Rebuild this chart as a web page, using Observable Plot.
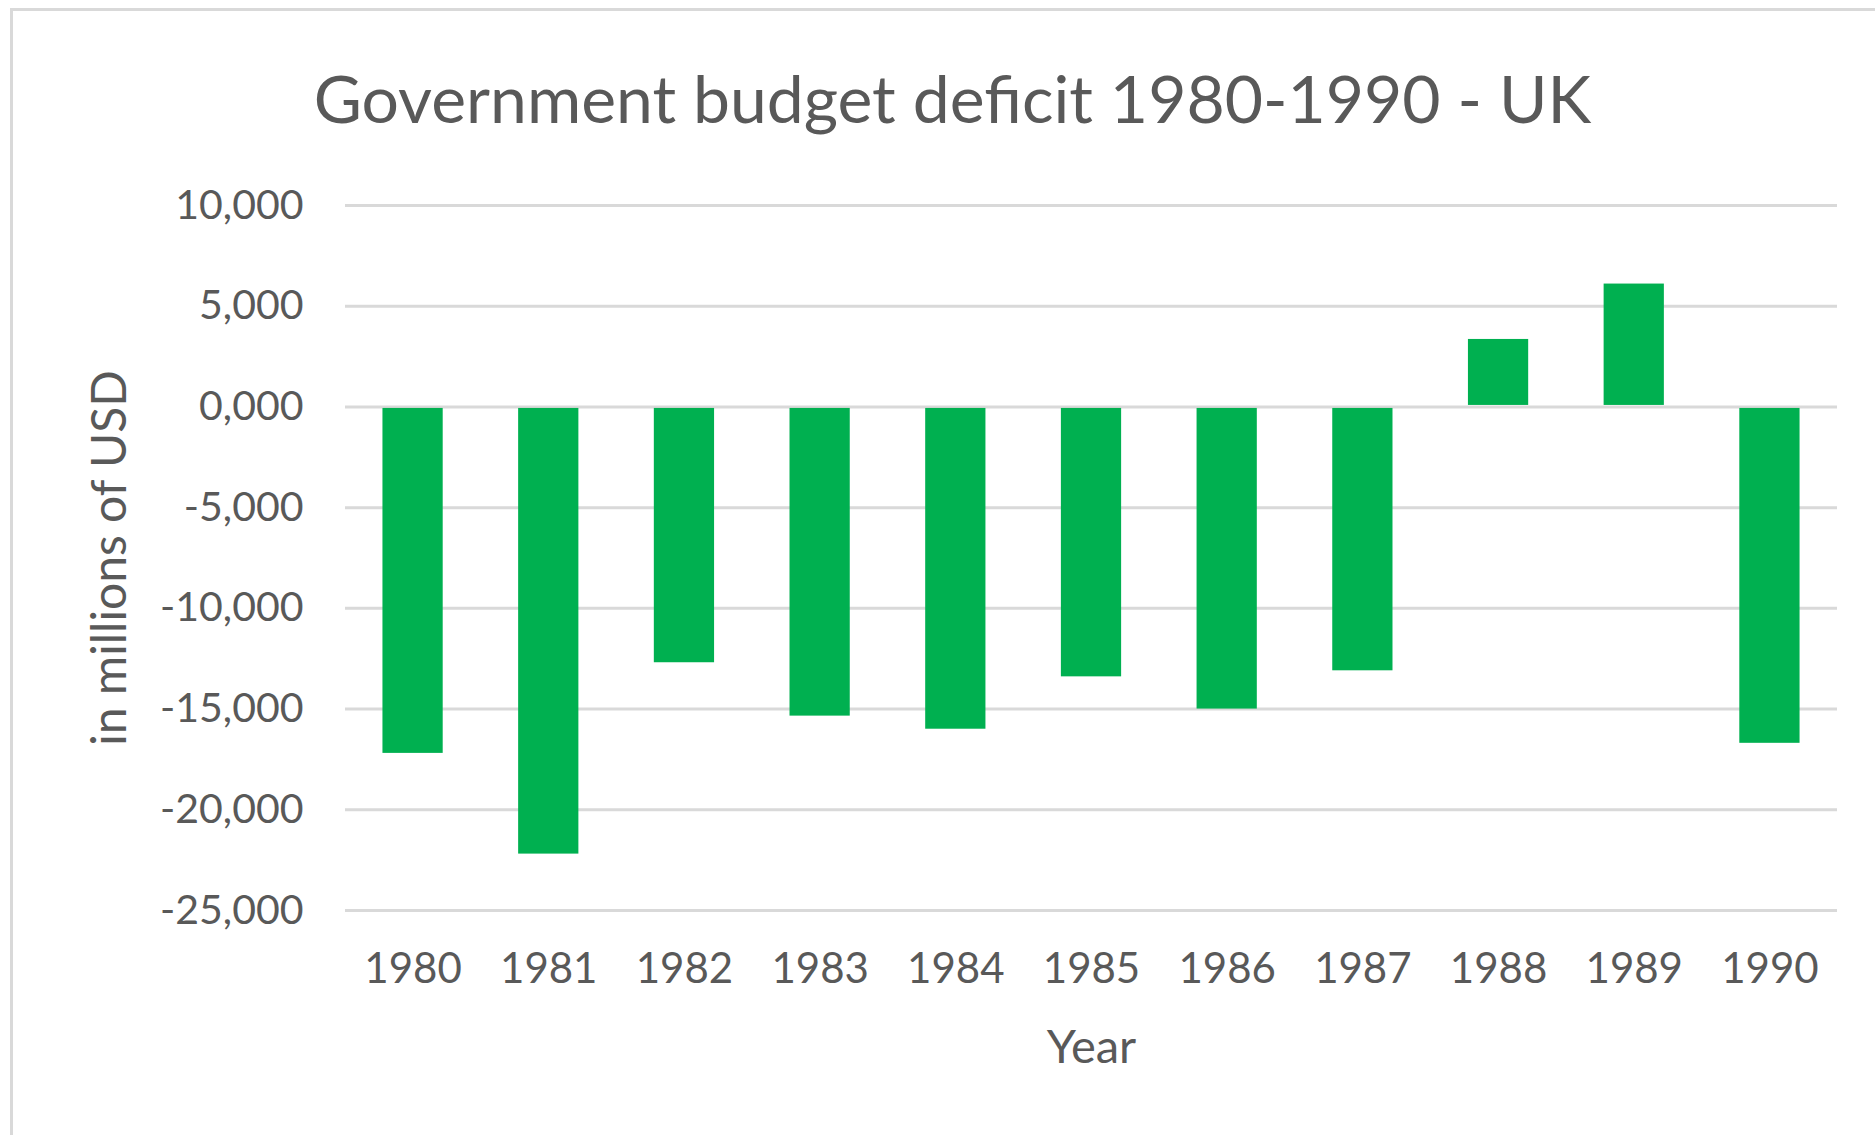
<!DOCTYPE html>
<html>
<head>
<meta charset="utf-8">
<script src="https://cdn.jsdelivr.net/npm/d3@7"></script>
<script src="https://cdn.jsdelivr.net/npm/@observablehq/plot@0.6"></script>
<style>
  html, body { margin: 0; padding: 0; background: #fff; }
  #wrap { position: relative; width: 1875px; height: 1135px; overflow: hidden; background: #fff; font-family: Lato, "Open Sans", sans-serif; }
  #frame { position: absolute; left: 10px; top: 8px; width: 1900px; height: 1200px; border-left: 3px solid #d9d9d9; border-top: 3px solid #d9d9d9; box-sizing: border-box; }
  #title { position: relative; height: 150px; text-align: center; color: #595959; font-size: 66px; line-height: 1; box-sizing: border-box; }
  #title span { position: absolute; left: 30px; right: 0; top: 65px; }
  #chart { position: relative; }
</style>
</head>
<body>
<div id="wrap">
  <div id="frame"></div>
  <div id="title"><span>Government budget deficit 1980-1990 - UK</span></div>
  <div id="chart"></div>
</div>
<script>
const years = ["1980","1981","1982","1983","1984","1985","1986","1987","1988","1989","1990"];
const deficit = [-17200, -22200, -12700, -15350, -16000, -13400, -15000, -13100, 3350, 6100, -16700];
const yTicks = [10000, 5000, 0, -5000, -10000, -15000, -20000, -25000];
const xTitle = "Year";
const yTitle = "in millions of USD";

const data = years.map((y, i) => ({year: y, value: deficit[i]}));
const fmt = d => (d < 0 ? "-" : "") + (Math.abs(d) / 1000) + ",000";

const chart = Plot.plot({
  width: 1875,
  height: 985,
  marginLeft: 345,
  marginRight: 38,
  marginTop: 55,
  marginBottom: 225,
  style: {fontFamily: "Lato, 'Open Sans', sans-serif", color: "#595959", background: "transparent"},
  x: {domain: years, paddingInner: 0.556, paddingOuter: 0.276, round: false, label: null},
  y: {domain: [-25000, 10000], label: null},
  marks: [
    Plot.gridY(yTicks, {stroke: "#d9d9d9", strokeWidth: 3, strokeOpacity: 1}),
    Plot.barY(data.filter(d => d.value < 0), {x: "year", y1: 0, y2: "value", fill: "#00b050", insetTop: 1.5}),
    Plot.barY(data.filter(d => d.value >= 0), {x: "year", y1: 0, y2: "value", fill: "#00b050", insetBottom: 1.5}),
    Plot.axisY({ticks: yTicks, tickFormat: fmt, tickSize: 0, tickPadding: 42, fontSize: 41, fill: "#595959", label: null}),
    Plot.axisX({tickSize: 0, tickPadding: 43, fontSize: 42, fill: "#595959", label: null}),
    Plot.text([xTitle], {text: d => d, frameAnchor: "bottom", dy: 137, lineAnchor: "middle", fontSize: 47, fill: "#595959"}),
    Plot.text([yTitle], {text: d => d, frameAnchor: "left", textAnchor: "middle", dx: -235, rotate: -90, lineAnchor: "middle", fontSize: 48, fill: "#595959"})
  ]
});
document.getElementById("chart").appendChild(chart);
</script>
</body>
</html>
